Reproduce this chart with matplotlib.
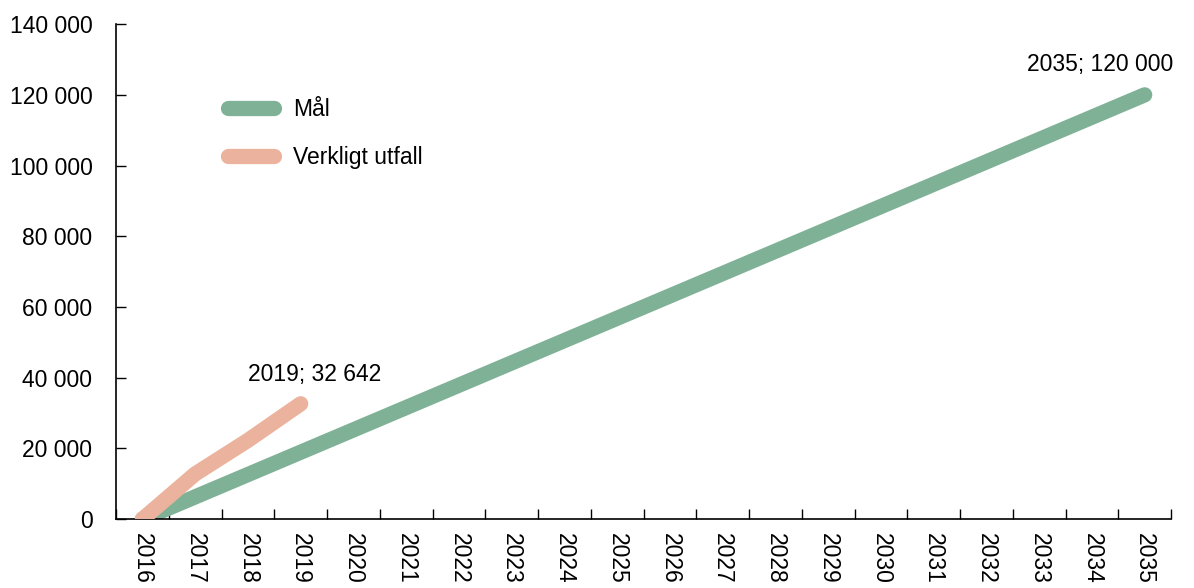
import matplotlib
matplotlib.use("Agg")
import matplotlib.pyplot as plt
from matplotlib.ticker import FuncFormatter, FixedLocator

plt.rcParams['font.family'] = ['Liberation Sans', 'DejaVu Sans']

years = [str(y) for y in range(2016, 2036)]
goal = [0, 6316, 12632, 18947, 25263, 31579, 37895, 44211, 50526, 56842,
        63158, 69474, 75789, 82105, 88421, 94737, 101053, 107368, 113684, 120000]
actual = [0, 12800, 22300, 32642]

GREEN = "#7FB196"
ORANGE = "#EBB39D"
FS = 16.5

fig = plt.figure(figsize=(11.94, 5.88), dpi=100)
ax = fig.add_axes([0.0972, 0.117, 0.8836, 0.842])

x = list(range(len(years)))
ax.plot(x, goal, color=GREEN, lw=11, solid_capstyle='round', label="Mål", zorder=2)
ax.plot(x[:len(actual)], actual, color=ORANGE, lw=11, solid_capstyle='round',
        label="Verkligt utfall", zorder=3)

ax.set_xlim(-0.5, len(years) - 0.5)
ax.set_ylim(0, 140000)
ax.set_yticks(range(0, 140001, 20000))
ax.yaxis.set_major_formatter(FuncFormatter(lambda v, p: f"{int(v):,}".replace(",", " ")))

# ticks at category boundaries, labels at centers
ax.xaxis.set_major_locator(FixedLocator([i - 0.5 for i in range(len(years) + 1)]))
ax.xaxis.set_major_formatter(FuncFormatter(lambda v, p: ""))
ax.set_xticks(x, minor=True)
ax.set_xticklabels(years, minor=True, rotation=-90, fontsize=FS)
ax.tick_params(axis='x', which='minor', length=0, pad=10)
ax.tick_params(axis='x', which='major', direction='in', length=7, width=1)
ax.tick_params(axis='y', direction='in', length=7, width=1, labelsize=FS, pad=17)

for s in ['top', 'right']:
    ax.spines[s].set_visible(False)
for s in ['left', 'bottom']:
    ax.spines[s].set_linewidth(1.2)

ax.annotate("2019; 32 642", (3, actual[3]), xytext=(10, 21), textcoords='offset points',
            ha='center', va='center', fontsize=FS)
ax.annotate("2035; 120 000", (19, goal[-1]), xytext=(-32, 22), textcoords='offset points',
            ha='center', va='center', fontsize=FS)

ax.legend(loc='upper left', bbox_to_anchor=(0.087, 0.893), frameon=False, fontsize=FS,
          handlelength=2.0, labelspacing=1.1, handletextpad=0.8)

fig.savefig("out.png", dpi=100)
